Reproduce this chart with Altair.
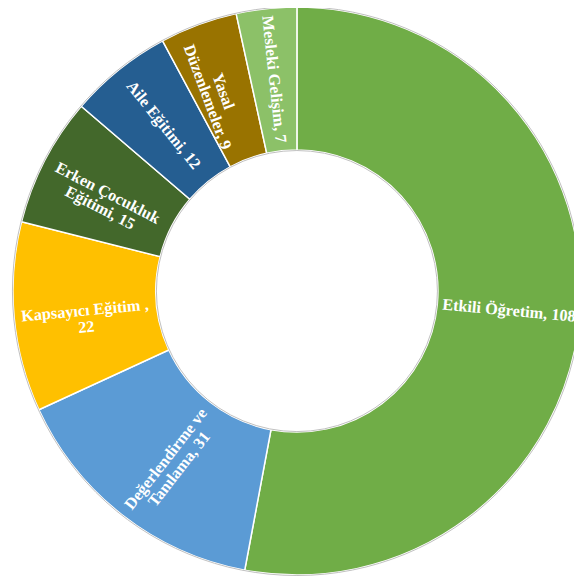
import altair as alt
import pandas as pd
import math

categories = ["Etkili Öğretim", "Değerlendirme ve Tanılama", "Kapsayıcı Eğitim", "Erken Çocukluk Eğitimi",
              "Aile Eğitimi", "Yasal Düzenlemeler", "Mesleki Gelişim"]
values = [108, 31, 22, 15, 12, 9, 7]
labels = ["Etkili Öğretim, 108", "Değerlendirme ve\nTanılama, 31", "Kapsayıcı Eğitim ,\n22",
          "Erken Çocukluk\nEğitimi, 15", "Aile Eğitimi, 12", "Yasal\nDüzenlemeler, 9", "Mesleki Gelişim, 7"]
colors = ["#70AD47", "#5B9BD5", "#FFC000", "#43682B", "#255E91", "#997300", "#8CC168"]

total = sum(values)
rot = []
cum = 0
for v in values:
    mid = (cum + v / 2) / total * 360.0
    cum += v
    a = (mid - 90.0) % 360.0
    if 90.0 < a < 270.0:
        a = (a + 180.0) % 360.0
    rot.append(a)

df = pd.DataFrame({"cat": categories, "value": values, "label": labels,
                   "order": list(range(len(values))), "rot": rot})

CX, CY = 293, 283
R_OUT, R_IN = 288, 143

base = alt.Chart(df).encode(
    theta=alt.Theta("value:Q", stack=True),
    order=alt.Order("order:Q"),
    x=alt.value(CX), y=alt.value(CY),
)

arcs = base.mark_arc(outerRadius=R_OUT, innerRadius=R_IN, stroke="white", strokeWidth=1.5).encode(
    color=alt.Color("cat:N", scale=alt.Scale(domain=categories, range=colors), legend=None)
)

text = base.mark_text(radius=216, font="Liberation Serif", fontWeight="bold", fontSize=16.5,
                      color="white", lineBreak="\n", lineHeight=17, align="center",
                      baseline="middle").encode(
    text="label:N",
    angle=alt.Angle("rot:Q", scale=None),
)

ring_df = pd.DataFrame({"v": [1]})
ring = alt.Chart(ring_df).mark_arc(outerRadius=R_OUT + 0.5, innerRadius=R_IN - 0.5, fillOpacity=0,
                                    theta=0, theta2=2 * math.pi,
                                    stroke="#BFBFBF", strokeWidth=1).encode(
    x=alt.value(CX), y=alt.value(CY)
)

chart = alt.layer(arcs, ring, text).properties(
    width=574, height=573, padding=0, autosize=alt.AutoSizeParams(type="none")
).configure_view(stroke=None)

chart.save("out.html", embed_options={"renderer": "svg", "actions": False})
